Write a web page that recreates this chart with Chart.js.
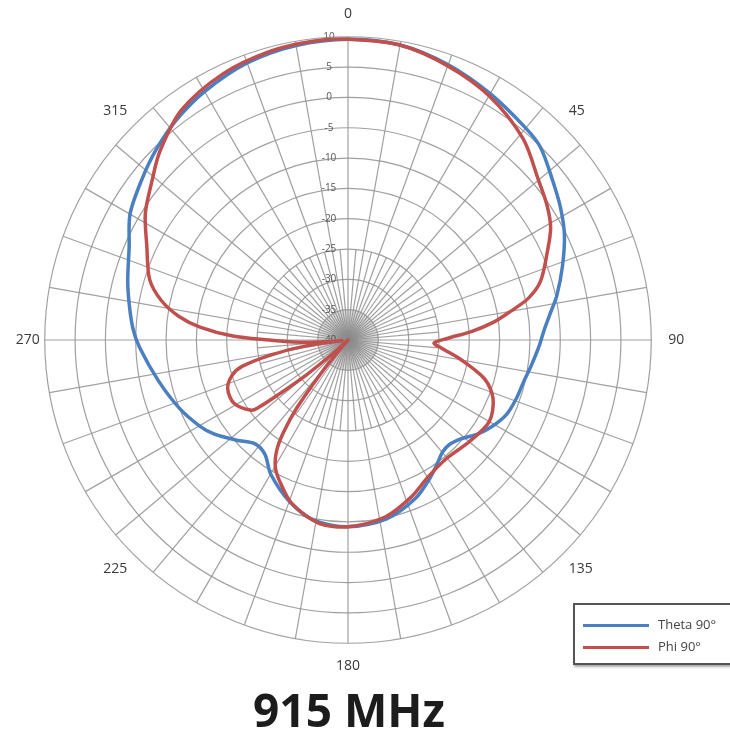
<!DOCTYPE html>
<html>
<head>
<meta charset="utf-8">
<script src="https://cdn.jsdelivr.net/npm/chart.js@4.4.1/dist/chart.umd.min.js"></script>
<style>
  html, body { margin: 0; padding: 0; background: #fff; }
  body { width: 730px; height: 735px; position: relative; overflow: hidden; font-family: "Open Sans", sans-serif; }
  #wrap { position: absolute; left: 0; top: 0; width: 694px; height: 680px; }
  #title { position: absolute; left: 0; top: 686px; width: 698px; text-align: center;
           font: 700 46px/1 "Open Sans", sans-serif; color: #1c1c1c; }
  #legend { position: absolute; left: 573px; top: 603px; width: 170px; height: 58px;
            border: 2px solid #555; box-shadow: 1px 2px 2px #aaa; background: #fff; }
  .item { position: absolute; left: 8px; height: 20px; font-size: 13px; color: #444; }
  .item span.line { position: absolute; left: 0; top: 9px; width: 66px; height: 3px; }
  .item span.txt { position: absolute; left: 75px; top: 0; white-space: nowrap; }
</style>
</head>
<body>
<div id="wrap"><canvas id="chart" width="694" height="680"></canvas></div>
<div id="legend">
  <div class="item" style="top:10px"><span class="line" style="background:#4a7fc1"></span><span class="txt">Theta 90°</span></div>
  <div class="item" style="top:32px"><span class="line" style="background:#c0504d"></span><span class="txt">Phi 90°</span></div>
</div>
<div id="title">915 MHz</div>
<script>
// ring values (dB)
const gainTicks = [-40, -35, -30, -25, -20, -15, -10, -5, 0, 5, 10];
// angular labels shown round the plot
const shownAngles = [0, 45, 90, 135, 180, 225, 270, 315];

// Theta 90° (blue), angle in degrees -> gain in dB
const thetaAngles = [0, 10, 20, 30, 40, 45, 52, 58, 64, 71, 78, 82, 87, 92, 98, 103, 109, 115, 121, 126,
  131, 136, 140, 144, 149, 157, 168, 180, 191, 200, 210, 216, 222, 228, 235, 240, 248, 258, 268, 273,
  279, 285, 293, 300, 308, 315, 322, 330, 340, 350];
const thetaGain = [9.6, 9.4, 8.3, 6.9, 5.6, 4.9, 2.8, 1.3, -0.3, -2.6, -4.8, -6.2, -7.6, -8.5, -9.5, -10.2, -10.6, -11.1, -12.3, -13.6,
  -15.2, -16.0, -15.8, -14.9, -13.6, -11.6, -9.8, -9.2, -9.8, -11.7, -14.5, -16.7, -17.0, -15.3, -13.0, -11.7, -10.0, -8.0, -5.6, -4.5,
  -3.5, -2.4, -0.8, 1.5, 3.1, 4.6, 6.0, 7.3, 8.6, 9.3];

// Phi 90° (red)
const phiAngles = [0, 10, 20, 30, 41, 50, 56, 61, 66, 73, 77, 80, 83, 86, 89, 92, 95, 100, 106, 112,
  120, 130, 140, 150, 158, 168, 180, 189, 199, 206, 210, 213, 215, 217, 219, 221, 224, 227, 230, 232,
  233, 234, 241, 248, 253, 256, 259, 262, 264, 266, 268, 270, 272, 275, 278, 282, 287, 295, 302, 309,
  315, 324, 335, 345, 353];
const phiGain = [9.6, 9.4, 8.1, 6.5, 4.0, 1.0, -0.4, -1.8, -4.0, -6.8, -9.5, -12.8, -15.8, -19.5, -23.5, -25.8, -24.5, -21.0, -16.5, -14.2,
  -13.1, -13.9, -14.6, -13.8, -12.1, -10.2, -9.2, -9.4, -11.5, -14.2, -16.0, -18.5, -21.5, -26, -33, -38.5, -40, -38, -31, -25,
  -21.5, -20.3, -18.5, -18.6, -20.0, -22, -27, -33, -39, -35, -31, -27, -21, -15.5, -11.8, -8.5, -5.8, -3.4, -0.6, 1.6,
  3.9, 6.8, 8.5, 9.3, 9.6];

const angleLabels = Array.from({ length: 360 }, (_, i) => String(i));

function toSeries(angles, gains) {
  const out = new Array(360).fill(null);
  angles.forEach((a, i) => { out[a % 360] = gains[i]; });
  return out;
}

const gridColor = 'rgba(150,150,150,0.9)';

// extra short spokes near the centre and the ring values
const radarDecor = {
  id: 'radarDecor',
  beforeDatasetsDraw(chart) {
    const scale = chart.scales.r;
    const ctx = chart.ctx;
    const cx = scale.xCenter, cy = scale.yCenter;
    ctx.save();
    ctx.strokeStyle = gridColor;
    ctx.lineWidth = 1.2;
    const rMid = scale.getDistanceFromCenterForValue(-25);
    for (let i = 5; i < 360; i += 10) {
      const p = scale.getPointPosition(i, rMid);
      ctx.beginPath(); ctx.moveTo(cx, cy); ctx.lineTo(p.x, p.y); ctx.stroke();
    }
    const rIn = scale.getDistanceFromCenterForValue(-35);
    ctx.strokeStyle = 'rgba(140,140,140,0.3)';
    ctx.lineWidth = 1;
    for (let i = 0; i < 360; i += 2) {
      const p = scale.getPointPosition(i, rIn);
      ctx.beginPath(); ctx.moveTo(cx, cy); ctx.lineTo(p.x, p.y); ctx.stroke();
    }
    ctx.fillStyle = '#555';
    ctx.font = '10px "Open Sans", sans-serif';
    ctx.textAlign = 'center';
    ctx.textBaseline = 'middle';
    scale.ticks.forEach(t => {
      const d = scale.getDistanceFromCenterForValue(t.value);
      ctx.fillText(t.label, cx - 19, cy - d);
    });
    ctx.restore();
  }
};

new Chart(document.getElementById('chart'), {
  type: 'radar',
  data: {
    labels: angleLabels,
    datasets: [
      {
        label: 'Theta 90°',
        data: toSeries(thetaAngles, thetaGain),
        borderColor: '#4a7fc1',
        borderWidth: 3.5,
        fill: false,
        pointRadius: 0,
        spanGaps: true,
        tension: 0.3,
        order: 1
      },
      {
        label: 'Phi 90°',
        data: toSeries(phiAngles, phiGain),
        borderColor: '#c0504d',
        borderWidth: 3.5,
        fill: false,
        pointRadius: 0,
        spanGaps: true,
        tension: 0.3,
        order: 0
      }
    ]
  },
  options: {
    responsive: false,
    animation: false,
    layout: { padding: { left: 9, right: 3, top: 3, bottom: 3 } },
    plugins: { legend: { display: false }, tooltip: { enabled: false } },
    scales: {
      r: {
        min: gainTicks[0],
        max: gainTicks[gainTicks.length - 1],
        ticks: { stepSize: 5, display: false },
        grid: { circular: true, color: gridColor, lineWidth: 1.2 },
        angleLines: {
          color: gridColor,
          lineWidth: (ctx) => (ctx.index % 10 === 0 ? 1.2 : 0)
        },
        pointLabels: {
          font: { family: 'Open Sans', size: 14 },
          color: '#3a3a3a',
          padding: (ctx) => {
            if (ctx.index === 270) return 5;
            if (ctx.index === 0 || ctx.index === 180) return 14;
            if (ctx.index % 90 === 45) return 9;
            return 17;
          },
          callback: (label, index) => (shownAngles.includes(index) ? label : '')
        }
      }
    }
  },
  plugins: [radarDecor]
});
</script>
</body>
</html>
